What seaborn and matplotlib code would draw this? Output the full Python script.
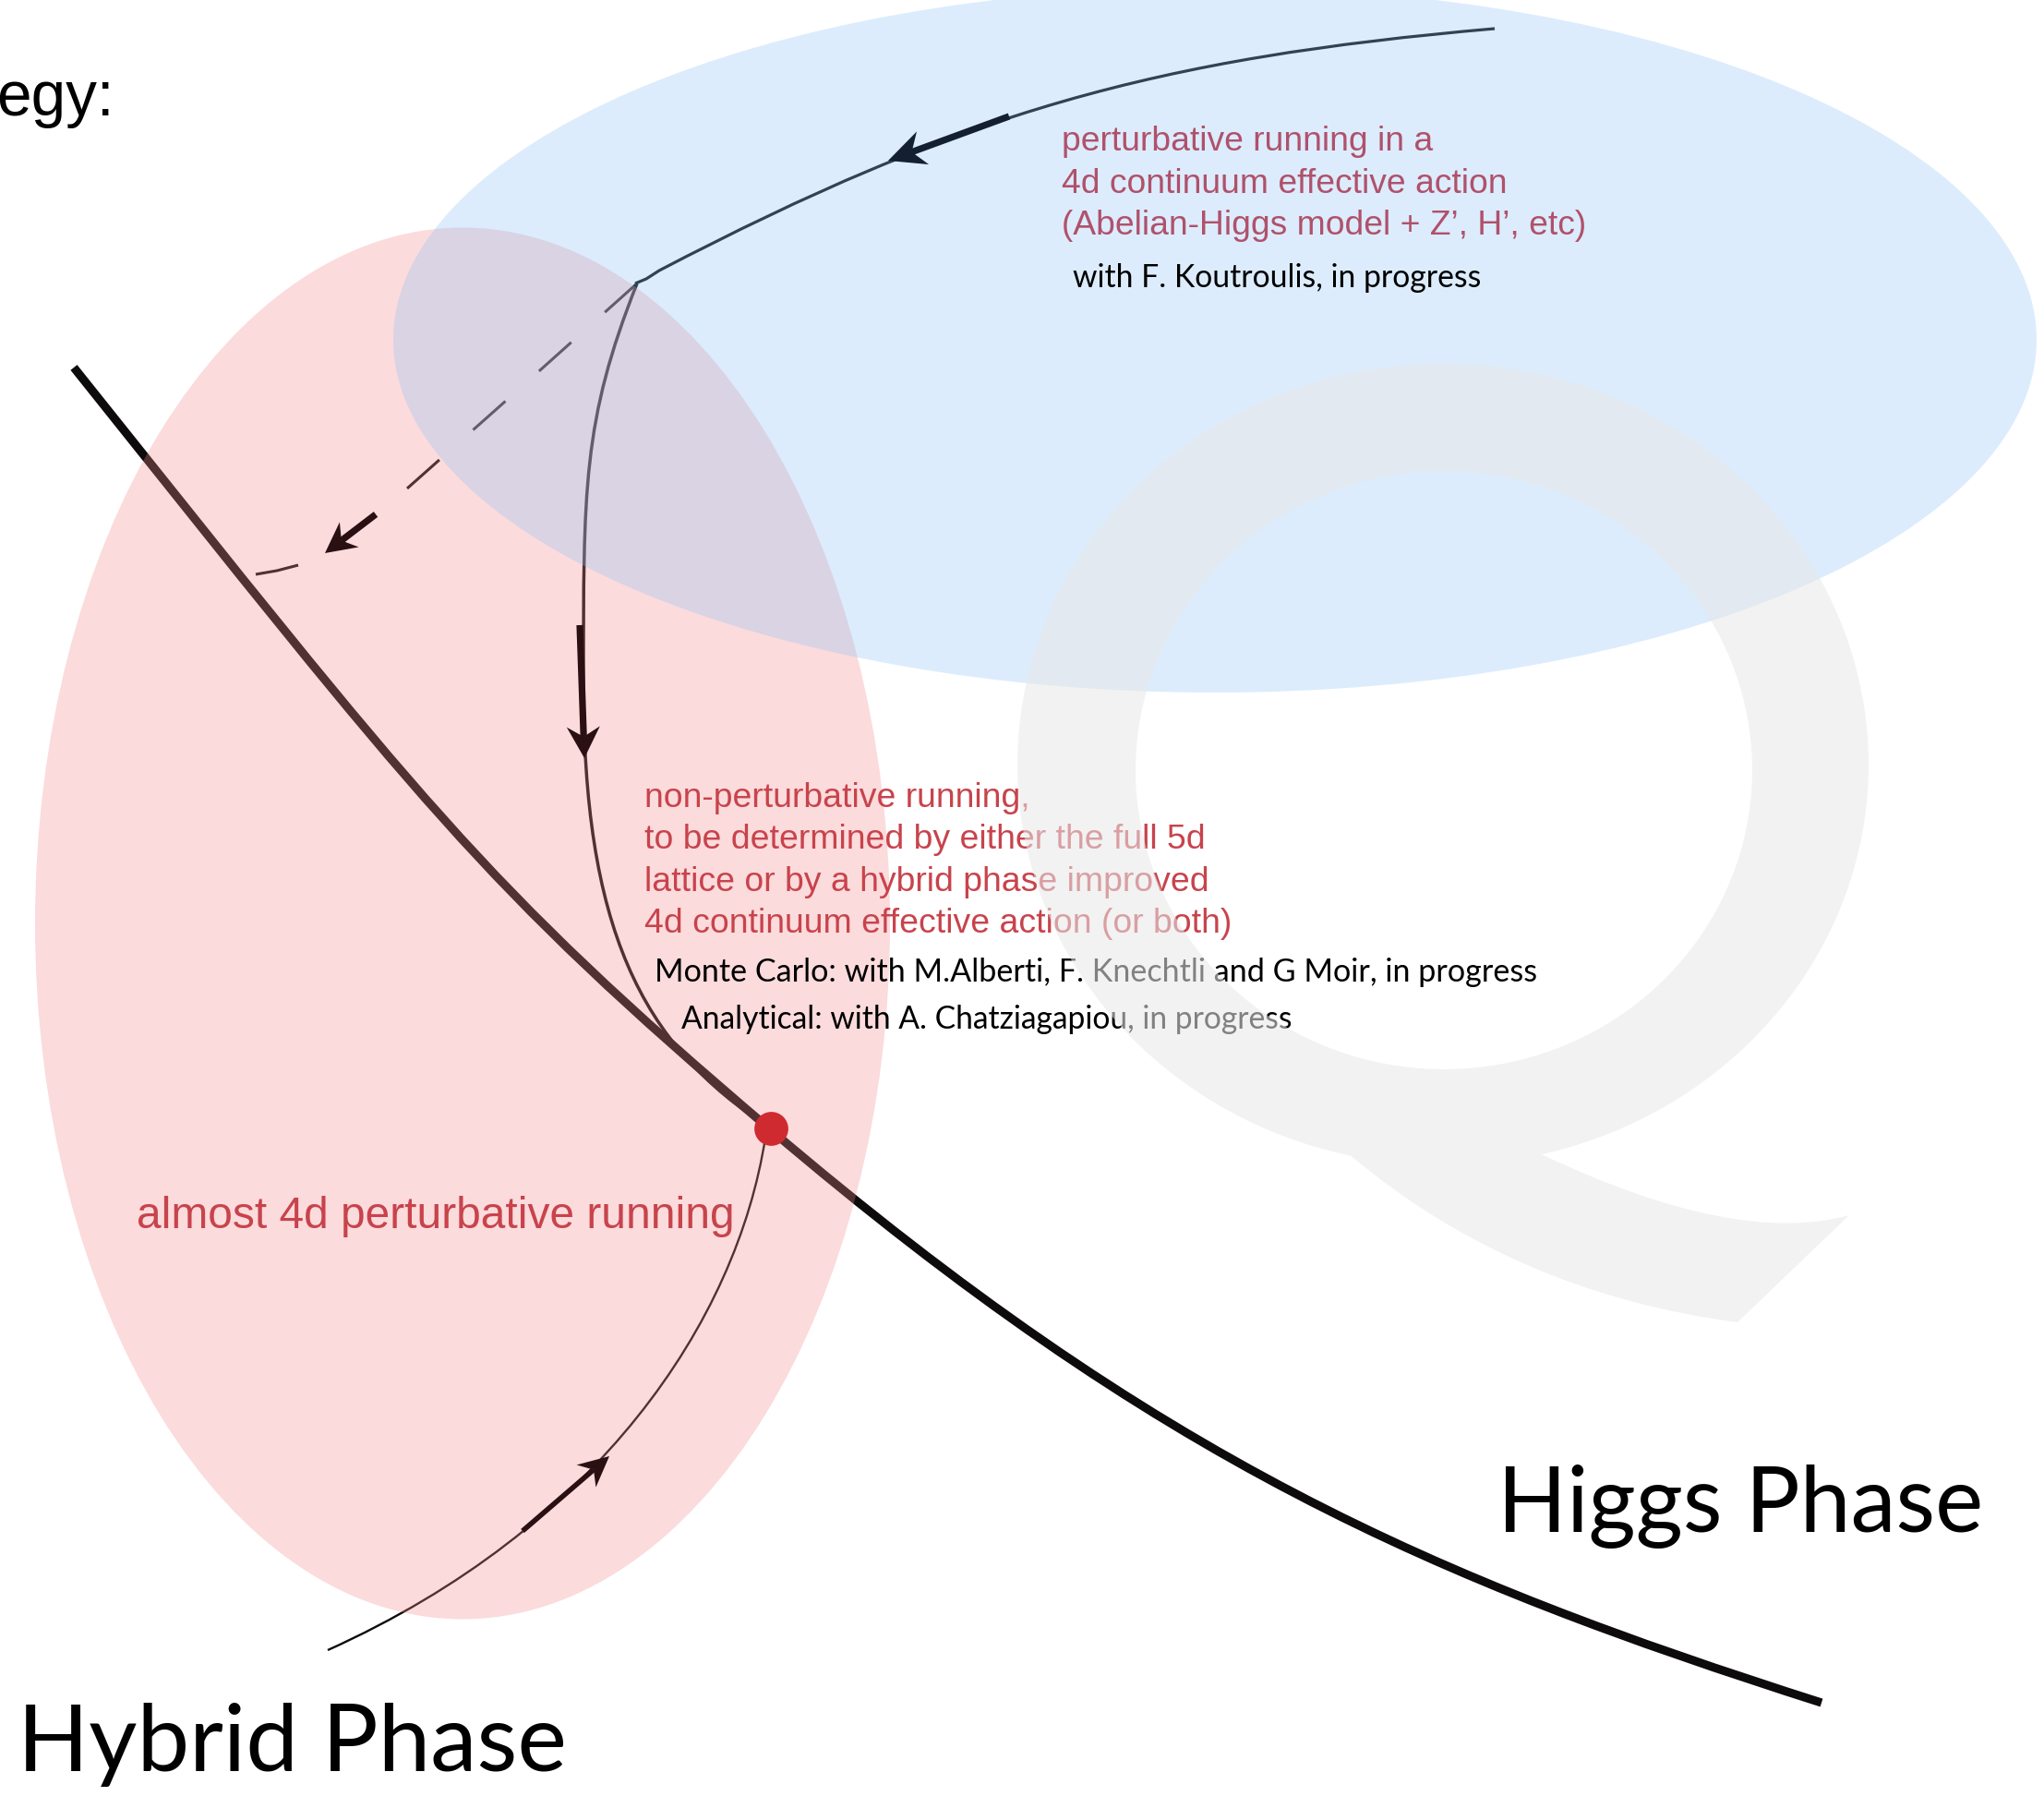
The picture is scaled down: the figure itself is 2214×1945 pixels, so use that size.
"""Phase diagram sketch: Higgs / Hybrid phase with RG flow lines."""
import numpy as np
import matplotlib
matplotlib.use('Agg')
import matplotlib.pyplot as plt
import seaborn as sns
from matplotlib.patches import Ellipse, Polygon, PathPatch
from matplotlib.path import Path

# ---- data (pixel coordinates of the original slide, y grows downward) ----
# curves are given as Bezier control points: M = move, C = cubic control, L = line
boundary_x = [80, 454, 521, 833, 1256, 1550, 1973]
boundary_y = [398, 866, 957, 1222, 1582, 1709, 1844]
boundary_codes = 'MCCCCCC'

pert_x = [1619, 1250, 1042, 714, 700, 688]
pert_y = [31, 63, 122, 293, 302, 307]
pert_codes = 'MCCCLL'

nonpert_x = [690, 631, 632, 632, 632, 692, 835]
nonpert_y = [307, 456, 529, 740, 1001, 1132, 1222]
nonpert_codes = 'MCCCCCC'

hybrid_x = [829, 798, 648, 355]
hybrid_y = [1232, 1431, 1655, 1787]
hybrid_codes = 'MCCC'

dashed_x = [690, 548, 441]
dashed_y = [307, 434, 529]
last_dash_x = [323, 300, 277]
last_dash_y = [612, 618, 622]

# arrows: (tail, tip)
arrows = {
    'pert': ((1093, 126), (962, 174)),
    'nonpert': ((628, 677), (633, 821)),
    'dashed': ((407, 557), (352, 599)),
    'hybrid': ((566, 1658), (660, 1577)),
}

fixed_point = (835, 1222)

blue_center, blue_w, blue_h = (1316, 368), 1780, 764
red_center, red_w, red_h = (501, 1000), 926, 1507

q_outer = (1563, 828, 461, 434)
q_inner = (1564, 834, 334, 324)
q_tail = [(1640, 1400), (1882, 1432), (2003, 1316), (1880, 1350)]

pert_lines = ['perturbative running in a',
              '4d continuum effective action',
              '(Abelian-Higgs model + Z\u2019, H\u2019, etc)']
nonpert_lines = ['non-perturbative running,',
                 'to be determined by either the full 5d',
                 'lattice or by a hybrid phase improved',
                 '4d continuum effective action (or both)']

sns.set_theme(style='white')
plt.rcParams['font.family'] = ['Liberation Sans', 'DejaVu Sans']

fig = plt.figure(figsize=(22.14, 19.45), dpi=100)
ax = fig.add_axes([0, 0, 1, 1])
ax.set_xlim(0, 2214)
ax.set_ylim(1945, 0)
ax.axis('off')
renderer = fig.canvas.get_renderer()

LINE = '#0d0b0b'
DARK = '#2a1013'
CODE = {'M': Path.MOVETO, 'C': Path.CURVE4, 'L': Path.LINETO}


def curve(xs, ys, codes, lw, color=LINE, z=1):
    path = Path(list(zip(xs, ys)), [CODE[c] for c in codes])
    ax.add_patch(PathPatch(path, fill=False, edgecolor=color, lw=lw,
                           capstyle='butt', joinstyle='round', zorder=z))


# lines sit under the translucent ellipses
curve(boundary_x, boundary_y, boundary_codes, 6.6)
curve(pert_x, pert_y, pert_codes, 2.3)
curve(nonpert_x, nonpert_y, nonpert_codes, 2.5)
curve(hybrid_x, hybrid_y, hybrid_codes, 1.7)
sns.lineplot(x=dashed_x, y=dashed_y, sort=False, ax=ax, color=LINE, lw=2.2,
             ls=(0, (15.3, 16)), zorder=1, dash_capstyle='butt')
sns.lineplot(x=last_dash_x, y=last_dash_y, sort=False, ax=ax, color=LINE, lw=2.2,
             zorder=1, solid_capstyle='butt')

ax.add_patch(Ellipse(red_center, red_w, red_h, color=(242/255, 138/255, 142/255),
                     alpha=0.3, lw=0, zorder=2))
ax.add_patch(Ellipse(blue_center, blue_w, blue_h, color=(140/255, 194/255, 247/255),
                     alpha=0.3, lw=0, zorder=2))


def stealth(tail, tip, head_len, half_w, shaft, color):
    tail, tip = np.array(tail, float), np.array(tip, float)
    d = (tip - tail) / np.linalg.norm(tip - tail)
    n = np.array([-d[1], d[0]])
    notch = tip - 0.68 * head_len * d
    ax.plot([tail[0], notch[0]], [tail[1], notch[1]], color=color, lw=shaft,
            solid_capstyle='butt', zorder=3)
    pts = [tip, tip - head_len * d + half_w * n, notch, tip - head_len * d - half_w * n]
    ax.add_patch(Polygon(pts, closed=True, color=color, lw=0, zorder=3))


stealth(*arrows['pert'], 40, 19, 5.2, '#142031')
stealth(*arrows['nonpert'], 34, 18, 5.2, DARK)
stealth(*arrows['dashed'], 33, 17, 5.2, DARK)
stealth(*arrows['hybrid'], 33, 16, 4.0, DARK)

ax.scatter([fixed_point[0]], [fixed_point[1]], s=700, color='#cf2a30', lw=0, zorder=3)


def fit_size(s, width, family, size=20):
    t = ax.text(0, 0, s, fontsize=size, family=family)
    w = t.get_window_extent(renderer=renderer).width
    t.remove()
    return size * width / w


def put(x, y, s, size, family, color, ha='left'):
    ax.text(x, y, s, fontsize=size, family=family, color=color, ha=ha,
            va='baseline', zorder=4)


SANS = ['Liberation Sans', 'DejaVu Sans']
GILL = ['Lato', 'DejaVu Sans']
RED = '#c8434c'
MAUVE = '#b0516b'

put(-4, 125, 'egy:', fit_size('egy:', 127, SANS), SANS, 'black')

size = fit_size(pert_lines[2], 569, SANS)
for i, line in enumerate(pert_lines):
    put(1150, 163 + 45.5 * i, line, size, SANS, MAUVE)
put(1162, 311, 'with F. Koutroulis, in progress',
    fit_size('with F. Koutroulis, in progress', 443, GILL), GILL, 'black')

size = fit_size(nonpert_lines[3], 634, SANS)
for i, line in enumerate(nonpert_lines):
    put(698, 874 + 45.3 * i, line, size, SANS, RED)

mc = 'Monte Carlo: with M.Alberti, F. Knechtli and G Moir, in progress'
an = 'Analytical: with A. Chatziagapiou, in progress'
put(709, 1063, mc, fit_size(mc, 959, GILL), GILL, 'black')
put(738, 1114, an, fit_size(an, 663, GILL), GILL, 'black')

al = 'almost 4d perturbative running'
put(148, 1330, al, fit_size(al, 645, SANS), SANS, RED)

put(1622, 1659, 'Higgs Phase', fit_size('Higgs Phase', 526, GILL), GILL, 'black')
put(19, 1918, 'Hybrid Phase', fit_size('Hybrid Phase', 596, GILL), GILL, 'black')

# faint "Q" watermark laid over everything
cx, cy, rx, ry = q_outer
ang = np.radians(np.linspace(76.6, 76.6 - 334.1, 160))
verts = list(zip(cx + rx * np.cos(ang), cy + ry * np.sin(ang)))
codes = [Path.MOVETO] + [Path.LINETO] * (len(verts) - 1)
verts += [q_tail[0], q_tail[1], q_tail[2], q_tail[3], verts[0], (0, 0)]
codes += [Path.CURVE3, Path.CURVE3, Path.LINETO, Path.CURVE3, Path.CURVE3, Path.CLOSEPOLY]
icx, icy, irx, iry = q_inner
ang = np.radians(np.linspace(0, 360, 160))
inner = list(zip(icx + irx * np.cos(ang), icy + iry * np.sin(ang)))
verts += inner + [(0, 0)]
codes += [Path.MOVETO] + [Path.LINETO] * (len(inner) - 1) + [Path.CLOSEPOLY]
ax.add_patch(PathPatch(Path(verts, codes), facecolor='#e8e8e8', edgecolor='none',
                       alpha=0.56, zorder=6))

fig.savefig('out.png', dpi=100)
